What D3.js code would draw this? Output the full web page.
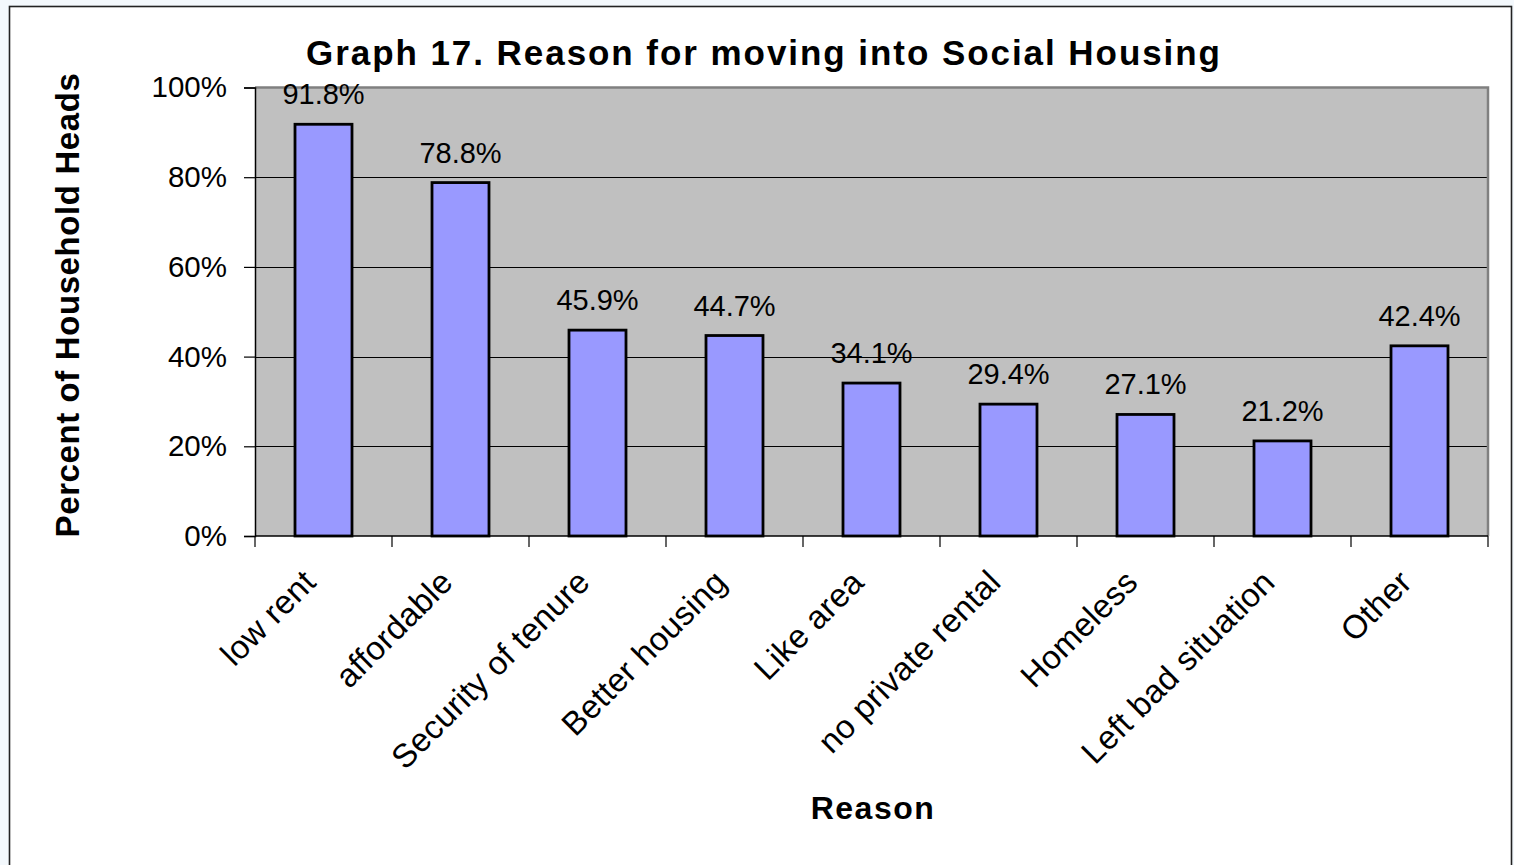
<!DOCTYPE html>
<html>
<head>
<meta charset="utf-8">
<script src="https://cdn.jsdelivr.net/npm/d3@7"></script>
<style>
  html, body { margin: 0; padding: 0; background: #F3F8FC; }
  svg { display: block; }
  text { font-family: "Liberation Sans", Arial, sans-serif; fill: #000; }
</style>
</head>
<body>
<svg id="chart" width="1514" height="865"></svg>
<script>
const categories = ["low rent", "affordable", "Security of tenure", "Better housing", "Like area", "no private rental", "Homeless", "Left bad situation", "Other"];
const values = [91.8, 78.8, 45.9, 44.7, 34.1, 29.4, 27.1, 21.2, 42.4];
const yTicks = [0, 20, 40, 60, 80, 100];
const titleText = "Graph 17. Reason for moving into Social Housing";
const xTitle = "Reason";
const yTitle = "Percent of Household Heads";

const svg = d3.select("#chart");

// outer frame
svg.append("rect").attr("x", 9.5).attr("y", 6.5).attr("width", 1502).attr("height", 870)
  .attr("fill", "#fff").attr("stroke", "#222").attr("stroke-width", 1.6);

const plot = { left: 255, right: 1488, top: 87.5, bottom: 536 };

const x = d3.scaleBand().domain(categories).range([plot.left, plot.right])
  .paddingInner(0.584).paddingOuter(0.292);
const y = d3.scaleLinear().domain([0, 100]).range([plot.bottom, plot.top]);

// plot background
svg.append("rect").attr("x", plot.left).attr("y", plot.top)
  .attr("width", plot.right - plot.left).attr("height", plot.bottom - plot.top)
  .attr("fill", "#C0C0C0");

// gridlines
svg.append("g").selectAll("line").data(yTicks.filter(d => d > 0 && d < 100)).join("line")
  .attr("x1", plot.left).attr("x2", plot.right)
  .attr("y1", d => Math.round(y(d)) + 0.5).attr("y2", d => Math.round(y(d)) + 0.5)
  .attr("stroke", "#000").attr("stroke-width", 1);

// plot border top and right (gray)
svg.append("path")
  .attr("d", `M${plot.left},${plot.top} H${plot.right} V${plot.bottom}`)
  .attr("fill", "none").attr("stroke", "#808080").attr("stroke-width", 2.5);

// bars
svg.append("g").selectAll("rect").data(values).join("rect")
  .attr("x", (d, i) => x(categories[i]))
  .attr("y", d => y(d))
  .attr("width", x.bandwidth())
  .attr("height", d => y(0) - y(d))
  .attr("fill", "#9999FF").attr("stroke", "#000").attr("stroke-width", 2.8);

// data labels
svg.append("g").selectAll("text").data(values).join("text")
  .attr("x", (d, i) => x(categories[i]) + x.bandwidth() / 2)
  .attr("y", d => y(d) - 20)
  .attr("text-anchor", "middle")
  .attr("font-size", 29)
  .text(d => d.toFixed(1) + "%");

// y axis
const yAxis = d3.axisLeft(y).tickValues(yTicks).tickSize(11).tickPadding(17)
  .tickFormat(d => d + "%");
const gy = svg.append("g").attr("transform", `translate(${plot.left},0)`).call(yAxis);
gy.select(".domain").attr("stroke", "#000").attr("stroke-width", 1.5);
gy.selectAll(".tick line").attr("stroke", "#000").attr("stroke-width", 1.2);
gy.selectAll(".tick text").attr("font-size", 29.5).attr("font-family", "Liberation Sans, Arial, sans-serif").attr("fill", "#000");

// x axis: ticks at category boundaries
const boundaries = categories.map(c => x(c) - x.step() * x.paddingInner() / 2).concat([plot.right]);
const gx = svg.append("g");
gx.append("line").attr("x1", plot.left).attr("x2", plot.right)
  .attr("y1", plot.bottom).attr("y2", plot.bottom)
  .attr("stroke", "#000").attr("stroke-width", 1.5);
gx.selectAll("line.tk").data(boundaries).join("line").attr("class", "tk")
  .attr("x1", d => d).attr("x2", d => d)
  .attr("y1", plot.bottom).attr("y2", plot.bottom + 11)
  .attr("stroke", "#000").attr("stroke-width", 1.2);

// x labels rotated
gx.selectAll("text").data(categories).join("text")
  .attr("transform", d => `translate(${x(d) + x.bandwidth() / 2 - 14},${plot.bottom + 40}) rotate(-45)`)
  .attr("text-anchor", "end")
  .attr("dy", "0.35em")
  .attr("font-size", 33)
  .attr("letter-spacing", 0.3)
  .text(d => d);

// title
svg.append("text")
  .attr("x", 763).attr("y", 65)
  .attr("text-anchor", "middle")
  .attr("font-size", 35).attr("font-weight", "bold")
  .attr("textLength", 914).attr("lengthAdjust", "spacing")
  .text(titleText);

// x axis title
svg.append("text")
  .attr("x", 873).attr("y", 819)
  .attr("text-anchor", "middle")
  .attr("font-size", 32).attr("font-weight", "bold")
  .attr("letter-spacing", 1.5)
  .text(xTitle);

// y axis title
svg.append("text")
  .attr("transform", `translate(79,305) rotate(-90)`)
  .attr("text-anchor", "middle")
  .attr("font-size", 33).attr("font-weight", "bold")
  .attr("letter-spacing", 0.6)
  .text(yTitle);
</script>
</body>
</html>
